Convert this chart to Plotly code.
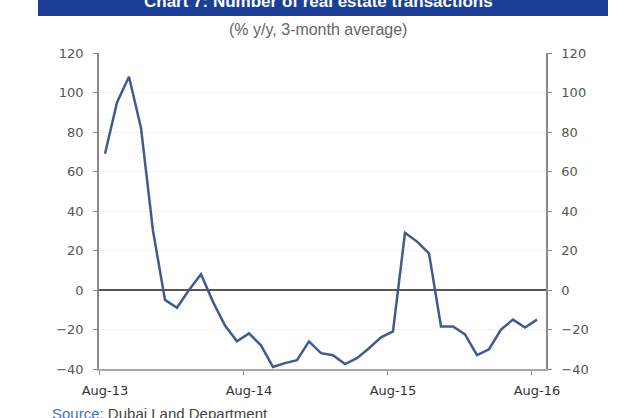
import plotly.graph_objects as go

# Data: % y/y, 3-month average, monthly Aug-13 .. Aug-16
months = ["Aug-13", "Sep-13", "Oct-13", "Nov-13", "Dec-13", "Jan-14", "Feb-14", "Mar-14",
          "Apr-14", "May-14", "Jun-14", "Jul-14", "Aug-14", "Sep-14", "Oct-14", "Nov-14",
          "Dec-14", "Jan-15", "Feb-15", "Mar-15", "Apr-15", "May-15", "Jun-15", "Jul-15",
          "Aug-15", "Sep-15", "Oct-15", "Nov-15", "Dec-15", "Jan-16", "Feb-16", "Mar-16",
          "Apr-16", "May-16", "Jun-16", "Jul-16", "Aug-16"]
values = [69, 95, 108, 82, 30, -5, -9, 0, 8, -6, -18, -26, -22, -28, -39, -37,
          -35.5, -26, -32, -33, -37.5, -34.5, -29.5, -24, -21, 29, 24.5, 18.5,
          -18.5, -18.5, -22.5, -33, -30, -20, -15, -19, -15]
tick_labels = ["Aug-13", "Aug-14", "Aug-15", "Aug-16"]
y_ticks = [-40, -20, 0, 20, 40, 60, 80, 100, 120]

x_idx = list(range(len(months)))
label_pos = [months.index(t) for t in tick_labels]
boundary_pos = [p - 0.5 for p in label_pos]

fig = go.Figure()
fig.add_trace(go.Scatter(x=x_idx, y=values, mode="lines",
                         line=dict(color="#405b90", width=2.5),
                         hoverinfo="skip", showlegend=False))
# invisible trace for right axis
fig.add_trace(go.Scatter(x=x_idx, y=values, mode="lines", yaxis="y2",
                         line=dict(color="rgba(0,0,0,0)", width=0),
                         hoverinfo="skip", showlegend=False))

tick_font = dict(family="DejaVu Sans", size=13, color="#555")

fig.update_layout(
    width=635, height=418,
    margin=dict(l=99, r=89, t=53, b=49),
    paper_bgcolor="white", plot_bgcolor="white",
    xaxis=dict(range=[-0.5, 36.75], tickvals=label_pos, ticktext=tick_labels,
               ticks="", showgrid=False, zeroline=False,
               showline=True, linecolor="#aaaaaa", linewidth=2,
               tickfont=dict(family="DejaVu Sans", size=13, color="#333"),
               ticklabelstandoff=8,
               minor=dict(tickvals=boundary_pos, ticks="outside", ticklen=4,
                          tickcolor="#888", tickwidth=1, showgrid=False)),
    yaxis=dict(range=[-40, 120], tickvals=y_ticks, ticks="outside", ticklen=4,
               tickcolor="#888", showline=True, linecolor="#888", linewidth=1.5,
               showgrid=True, gridcolor="#f3f3f3", gridwidth=1,
               zeroline=True, zerolinecolor="#555", zerolinewidth=1.5,
               tickfont=tick_font, ticklabelstandoff=7),
    yaxis2=dict(range=[-40, 120], tickvals=y_ticks, overlaying="y", side="right",
                ticks="outside", ticklen=4, tickcolor="#888",
                showline=True, linecolor="#888", linewidth=1.5,
                showgrid=False, zeroline=False, tickfont=tick_font,
                ticklabelstandoff=7),
)

# title band
fig.add_shape(type="rect", xref="paper", yref="paper",
              x0=-0.1365, x1=1.1387, y0=1.117, y1=1.2,
              fillcolor="#1a3f94", line=dict(width=0), layer="below")
fig.add_annotation(text="<b>Chart 7: Number of real estate transactions</b>",
                   xref="paper", yref="paper", x=0.49, y=1.163,
                   xanchor="center", yanchor="middle", showarrow=False,
                   font=dict(family="Liberation Sans", size=17, color="white"))
fig.add_annotation(text="(% y/y, 3-month average)",
                   xref="paper", yref="paper", x=0.49, y=1.0728,
                   xanchor="center", yanchor="middle", showarrow=False,
                   font=dict(family="Liberation Sans", size=16, color="#666"))
fig.add_annotation(text="<span style='color:#4a6fb5'>Source:</span> Dubai Land Department",
                   xref="paper", yref="paper", x=-0.1096, y=-0.142,
                   xanchor="left", yanchor="middle", showarrow=False,
                   font=dict(family="Liberation Sans", size=15, color="#444"))

fig.write_html("out.html", config={"displayModeBar": False},
               post_script="document.body.style.margin='0';document.body.style.overflow='hidden';")
